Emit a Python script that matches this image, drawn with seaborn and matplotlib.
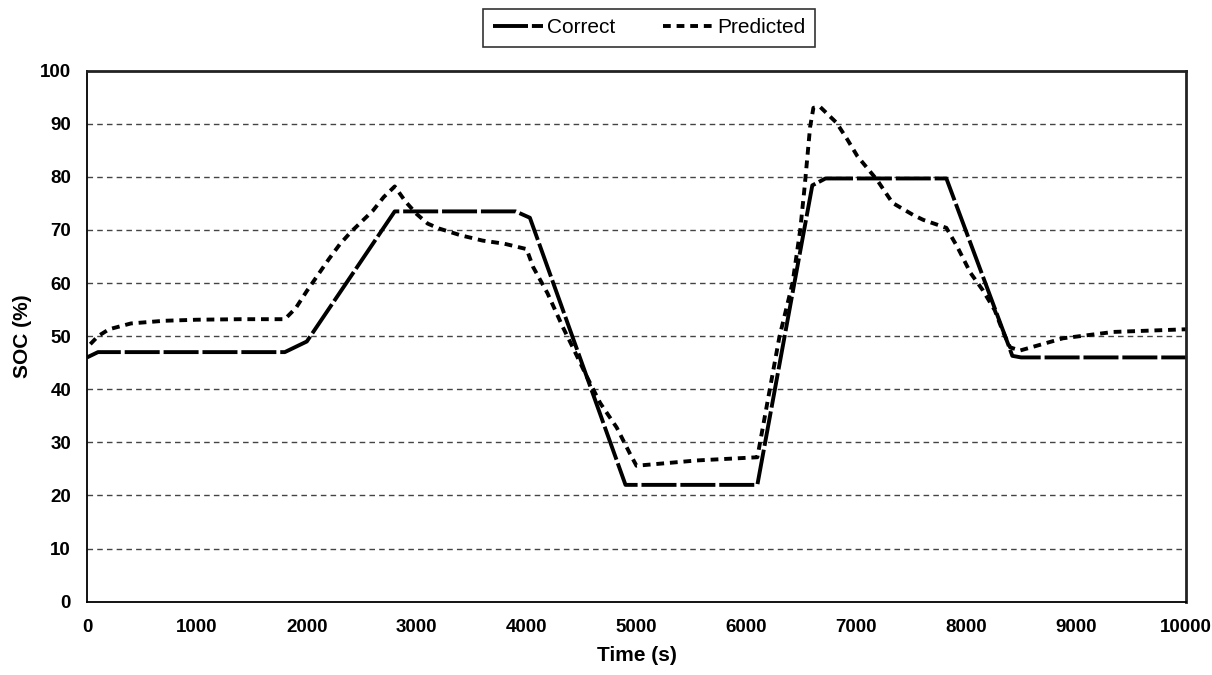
import matplotlib
matplotlib.use('Agg')
import matplotlib.pyplot as plt
import seaborn as sns
import pandas as pd

sns.set_style('white')
plt.rcParams['font.family'] = ['Liberation Sans', 'DejaVu Sans']

# ── data ─────────────────────────────────────────────────────────────────────
correct_t = [0, 100, 1800, 2000, 2800, 3900, 4030, 4900, 6100, 6600, 6720,
             7820, 8380, 8420, 8500, 10000]
correct_soc = [46, 47, 47, 49, 73.5, 73.5, 72.3, 22, 22, 78.4, 79.7,
               79.7, 48.6, 46.3, 46, 46]

pred_t = [30, 100, 200, 400, 700, 1000, 1400, 1800, 1900, 2000, 2100, 2200,
          2300, 2400, 2500, 2600, 2700, 2800, 2900, 3000, 3100, 3200, 3400,
          3600, 3800, 4000, 4060, 4190, 4330, 4420, 4550, 4670, 4820, 4940,
          5000, 5550, 6100, 6300, 6420, 6490, 6530, 6580, 6610, 6670, 6820,
          6920, 7010, 7190, 7330, 7520, 7610, 7820, 7920, 8040, 8150, 8260,
          8330, 8400, 8490, 8880, 9340, 10000]
pred_soc = [48.5, 50, 51.3, 52.4, 52.9, 53.1, 53.2, 53.2, 55.3, 58.5, 61.5,
            64.5, 67.3, 69.6, 71.6, 73.6, 76.2, 78.2, 75.3, 73, 71.2, 70.3,
            69, 68, 67.4, 66.4, 63, 58.1, 51.7, 47.9, 42.3, 37.4, 32.8, 27.9,
            25.6, 26.6, 27.2, 49.8, 60, 70, 78.1, 89.4, 93, 93.2, 90.2, 87,
            83.9, 79.4, 75.1, 72.8, 71.9, 70.4, 66.8, 61.9, 58.7, 54.9, 51.1,
            47.9, 47.3, 49.6, 50.8, 51.3]

df_c = pd.DataFrame({'Time (s)': correct_t, 'SOC (%)': correct_soc})
df_p = pd.DataFrame({'Time (s)': pred_t, 'SOC (%)': pred_soc})

fig = plt.figure(figsize=(12.12, 6.75), dpi=100)
ax = fig.add_axes([0.0718, 0.1086, 0.9067, 0.7867])

# horizontal gridlines (Excel style)
for v in range(10, 100, 10):
    ax.axhline(v, color='#444444', linewidth=1.0, linestyle=(0, (4, 3)), zorder=0)

sns.lineplot(data=df_c, x='Time (s)', y='SOC (%)', ax=ax, color='black',
             linewidth=2.8, label='Correct', dashes=False)
sns.lineplot(data=df_p, x='Time (s)', y='SOC (%)', ax=ax, color='black',
             linewidth=2.8, label='Predicted', dashes=False)
lines = ax.get_lines()
lines[-2].set_dashes([9, 1.0])
lines[-1].set_dashes([2.0, 1.5])

ax.set_xlim(0, 10000)
ax.set_ylim(0, 100)
ax.set_xticks(range(0, 10001, 1000))
ax.set_yticks(range(0, 101, 10))
ax.tick_params(axis='both', direction='inout', length=7, width=1.2,
               labelsize=13.5, colors='black')
ax.tick_params(axis='x', pad=9)
ax.tick_params(axis='y', pad=8)
for lab in ax.get_xticklabels() + ax.get_yticklabels():
    lab.set_fontweight('bold')

ax.set_xlabel('Time (s)', fontsize=15, fontweight='bold', labelpad=7, color='black')
ax.set_ylabel('SOC (%)', fontsize=15, fontweight='bold', labelpad=6, color='black')

for side in ['left', 'bottom']:
    ax.spines[side].set_color('black')
    ax.spines[side].set_linewidth(1.3)
for side in ['top', 'right']:
    ax.spines[side].set_color('#222222')
    ax.spines[side].set_linewidth(2.0)

ax.legend_.remove()
leg = fig.legend(handles=lines[-2:], labels=['Correct', 'Predicted'],
                 loc='center', bbox_to_anchor=(0.5355, 0.959), ncol=2,
                 frameon=True, fancybox=False, edgecolor='black',
                 fontsize=15, handlelength=2.4, columnspacing=2.3,
                 handletextpad=0.2, borderpad=0.45, borderaxespad=0,
                 labelcolor='black')
leg.get_frame().set_linewidth(1.2)

fig.savefig('out.png', dpi=100)
